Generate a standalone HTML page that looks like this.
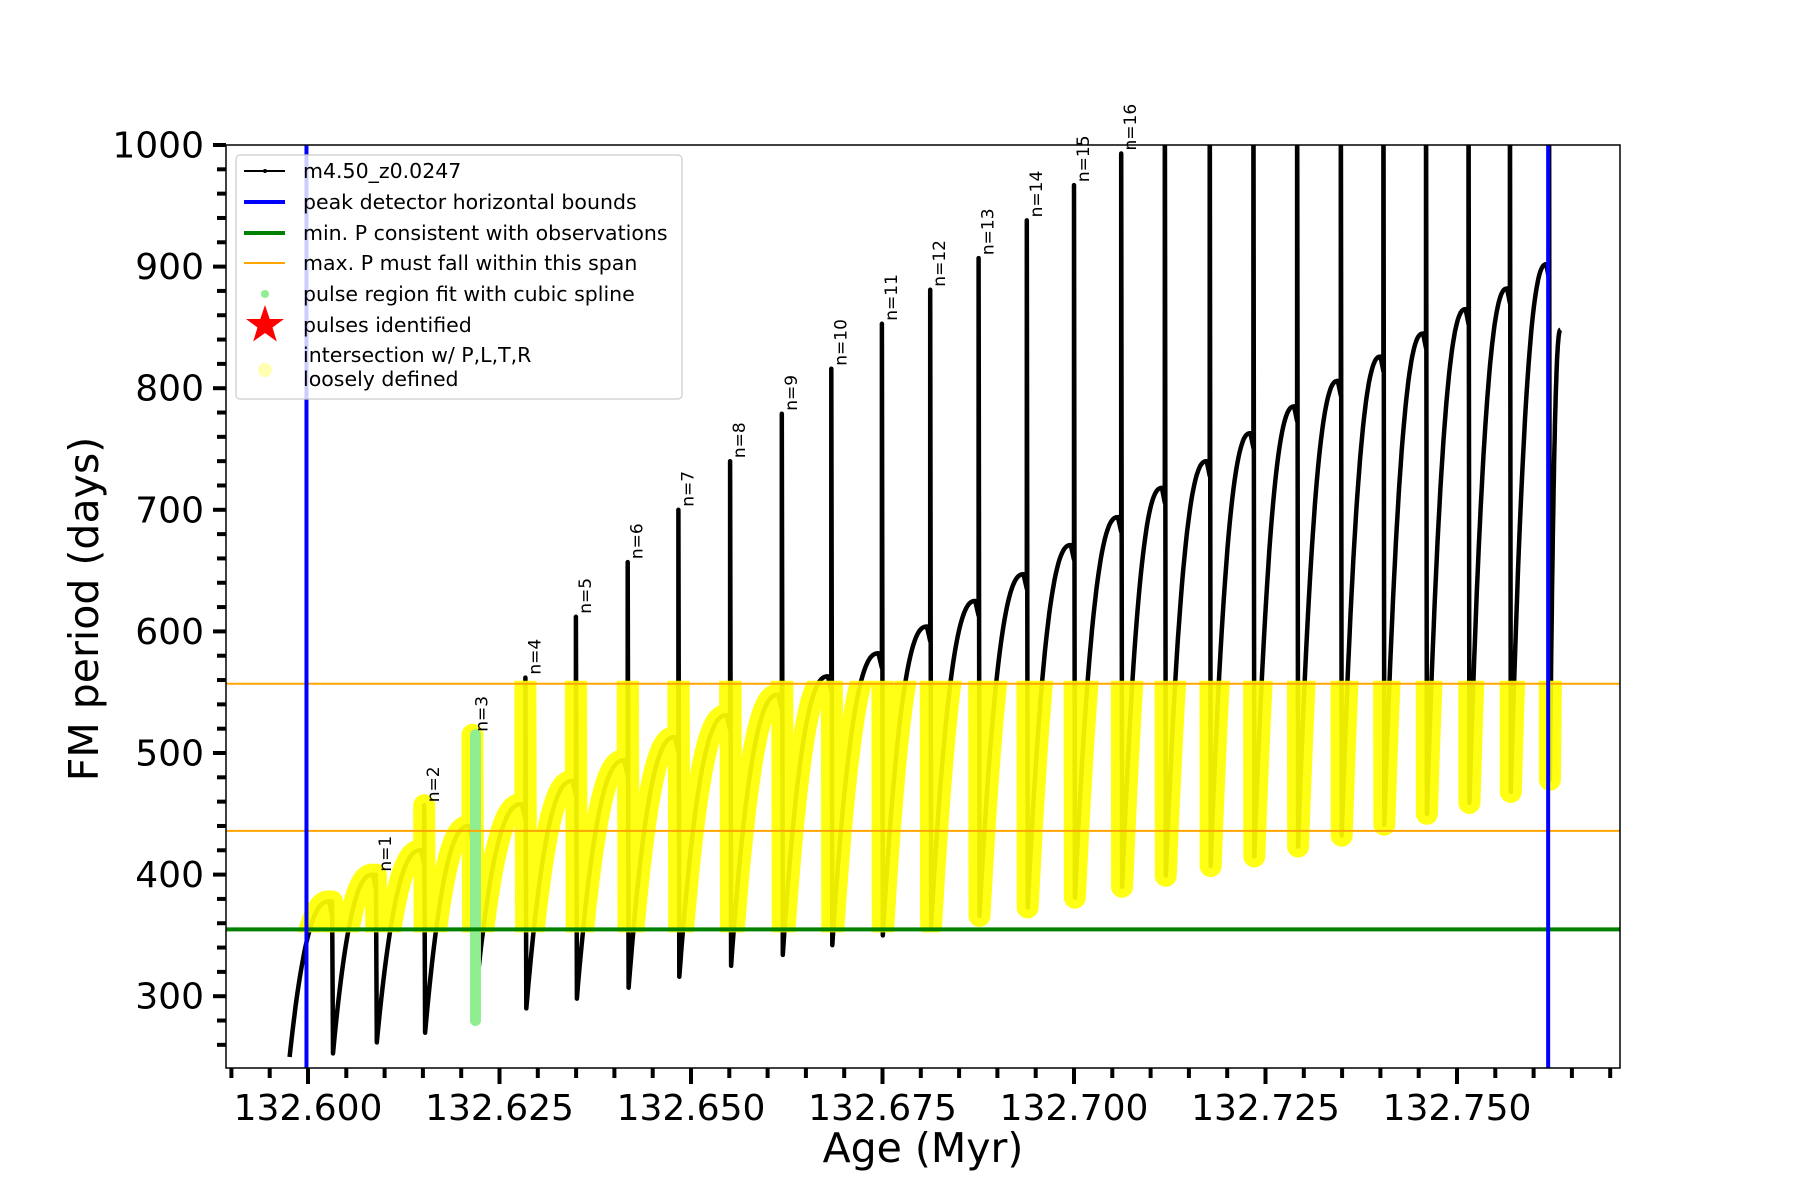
<!DOCTYPE html>
<html><head><meta charset="utf-8"><style>
html,body{margin:0;padding:0;background:#fff;}
svg{display:block;font-family:"DejaVu Sans","Liberation Sans",sans-serif;}
</style></head><body>
<svg id="chart" width="1800" height="1200" viewBox="0 0 1800 1200" xmlns="http://www.w3.org/2000/svg">
<defs><clipPath id="plotclip"><rect x="226" y="145" width="1394" height="923"/></clipPath>
<clipPath id="bandclip"><rect id="bandrect" x="226" y="0" width="1394" height="10"/></clipPath></defs>
<rect x="226" y="145" width="1394" height="923" fill="#fff"/>
<g id="marks" clip-path="url(#plotclip)"></g>
<g id="labels"></g>
<rect x="226" y="145" width="1394" height="923" fill="none" stroke="#000" stroke-width="1.5"/>
<g id="axes"></g>
<text x="923" y="1162" font-size="41" text-anchor="middle">Age (Myr)</text>
<text transform="translate(98,609) rotate(-90)" font-size="41" text-anchor="middle">FM period (days)</text>
<g>
<rect x="236" y="155" width="446" height="244" rx="4" fill="#fff" fill-opacity="0.8" stroke="#ccc" stroke-width="1.2"/>
<g><line x1="244" y1="171" x2="285" y2="171" stroke="#000" stroke-width="2"/><circle cx="265" cy="171" r="2" fill="#000"/><text x="303" y="178" font-size="20.5">m4.50_z0.0247</text></g>
<g><line x1="244" y1="202" x2="285" y2="202" stroke="#0000ff" stroke-width="4"/><text x="303" y="209" font-size="20.5">peak detector horizontal bounds</text></g>
<g><line x1="244" y1="233" x2="285" y2="233" stroke="#008000" stroke-width="4"/><text x="303" y="240" font-size="20.5">min. P consistent with observations</text></g>
<g><line x1="244" y1="263" x2="285" y2="263" stroke="#ffa500" stroke-width="2"/><text x="303" y="270" font-size="20.5">max. P must fall within this span</text></g>
<g><circle cx="265" cy="294" r="4" fill="#90ee90"/><text x="303" y="301" font-size="20.5">pulse region fit with cubic spline</text></g>
<g><polygon points="265,305 269.7,319 284,319 272.5,327.5 276.8,341.5 265,333 253.2,341.5 257.5,327.5 246,319 260.3,319" fill="#ff0000"/><text x="303" y="332" font-size="20.5">pulses identified</text></g>
<g><circle cx="265" cy="370" r="7" fill="#ffffa0" opacity="0.8"/><text x="303" y="362" font-size="20.5">intersection w/ P,L,T,R</text><text x="303" y="386" font-size="20.5">loosely defined</text></g>
</g>
</svg>
<script>
// ---- data ----
const eventAges = [132.60315,132.60886,132.61517,132.62147,132.62838,132.63498,132.64174,132.64835,132.65511,132.66186,132.66832,132.67492,132.68123,132.68754,132.69384,132.70000,132.70616,132.71186,132.71772,132.72342,132.72913,132.73483,132.74039,132.74595,132.75150,132.75691,132.76201];
const cyclePeaks = [378,400,420,440,458,477,494,513,531,548,563,582,604,625,647,671,694,718,740,763,785,806,826,845,865,882,902];
const spikeMax = [378,400,457,515,562,612,657,700,740,779,816,853,881,907,938,967,993,1100,1100,1100,1100,1100,1100,1100,1100,1100,1100];
const minAfter = [253,262,270,280,290,298,307,316,325,334,342,350,358,366,373,381,390,399,407,415,423,432,441,450,459,468,478];
const seriesStart = [132.59760, 250];
const seriesEnd = [132.76351, 848];
const pulseLabels = ["n=1","n=2","n=3","n=4","n=5","n=6","n=7","n=8","n=9","n=10","n=11","n=12","n=13","n=14","n=15","n=16"];
const greenPulse = [3, 280, 515];
const hBlue = [132.5998, 132.7619];
const hGreen = 355;
const hOrange = [557, 436];
const xTicks = [132.600,132.625,132.650,132.675,132.700,132.725,132.750];
const xTickLabels = ["132.600","132.625","132.650","132.675","132.700","132.725","132.750"];
const yTicks = [300,400,500,600,700,800,900,1000];
const yTickLabels = ["300","400","500","600","700","800","900","1000"];
// ---- scales ----
const X = a => 308 + (a - 132.6) * 7660;
const Y = v => 145 + (1000 - v) * 1.216;
const NS = "http://www.w3.org/2000/svg";
function mk(tag, attrs, parent){const e=document.createElementNS(NS,tag);for(const k in attrs)e.setAttribute(k,attrs[k]);parent.appendChild(e);return e;}
const marks = document.getElementById('marks');
const labels = document.getElementById('labels');
const axes = document.getElementById('axes');
let pts = [];
let s = seriesStart[0], m = seriesStart[1];
function rise(a0, a1, v0, vp){
  const n = 40;
  for(let k=0;k<=n;k++){const u=k/n;const f=1-Math.pow(1-u,2.4);pts.push([a0+(a1-a0)*0.93*u, v0+(vp-v0)*f]);}
}
for(let i=0;i<eventAges.length;i++){
  const e = eventAges[i];
  rise(s, e, m, cyclePeaks[i]);
  pts.push([e, cyclePeaks[i]-12]);
  pts.push([e, spikeMax[i]]);
  pts.push([e+0.00012, minAfter[i]]);
  s = e+0.00012; m = minAfter[i];
}
rise(s, seriesEnd[0]+ (seriesEnd[0]-s)*0.075, m, seriesEnd[1]);
const d = pts.map((p,i)=>(i?'L':'M')+X(p[0]).toFixed(1)+','+Y(p[1]).toFixed(1)).join('');
const br = document.getElementById('bandrect');
br.setAttribute('y', Y(hOrange[0]) - 3);
br.setAttribute('height', Y(hGreen) - Y(hOrange[0]) + 6);
const blk = mk('path',{d:d,fill:'none',stroke:'#000','stroke-width':4.5,'stroke-linejoin':'round'},marks);


const yel = mk('path',{d:d,fill:'none',stroke:'#ffff00','stroke-width':22,'stroke-opacity':0.92,'stroke-linecap':'round','stroke-linejoin':'round','clip-path':'url(#bandclip)'},marks);


const grn = mk('line',{x1:X(eventAges[greenPulse[0]])+3,x2:X(eventAges[greenPulse[0]])+3,y1:Y(greenPulse[1]),y2:Y(greenPulse[2]),stroke:'#90ee90','stroke-width':11,'stroke-linecap':'round'},marks);


const gl = mk('line',{x1:226,x2:1620,y1:Y(hGreen),y2:Y(hGreen),stroke:'#008000','stroke-width':4},marks);


hOrange.forEach((v,i)=>{
  const l = mk('line',{x1:226,x2:1620,y1:Y(v),y2:Y(v),stroke:'#ffa500','stroke-width':2},marks);
  
  
});
hBlue.forEach(a=>{
  const l = mk('line',{x1:X(a),x2:X(a),y1:145,y2:1068,stroke:'#0000ff','stroke-width':4},marks);
  
  
});
pulseLabels.forEach((t,i)=>{
  const e = eventAges[i+1];
  const tx = mk('text',{transform:`translate(${X(e)+15},${Y(spikeMax[i+1])-3}) rotate(-90)`,'font-size':17},labels);
  tx.textContent = t;
  
  
});
for(let v=260; v<=1000; v+=20){
  const major = v%100===0;
  const l = mk('line',{x1:226,x2:226-(major?13:9),y1:Y(v),y2:Y(v),stroke:'#000','stroke-width':4},axes);
  
  
}
yTicks.forEach((v,i)=>{
  const t = mk('text',{x:204,y:Y(v)+12.5,'font-size':36,'text-anchor':'end'},axes);
  t.textContent = yTickLabels[i];
  
  
});
for(let k=-2;k<=34;k++){
  const a = 132.6 + k*0.005;
  const x = X(a);
  if(x<228||x>1620) continue;
  const major = k%5===0;
  const l = mk('line',{x1:x,x2:x,y1:1068,y2:1068+(major?16:10),stroke:'#000','stroke-width':4},axes);
  
  
}
xTicks.forEach((a,i)=>{
  const t = mk('text',{x:X(a),y:1120,'font-size':36,'text-anchor':'middle'},axes);
  t.textContent = xTickLabels[i];
  
  
});
</script>
</body></html>
